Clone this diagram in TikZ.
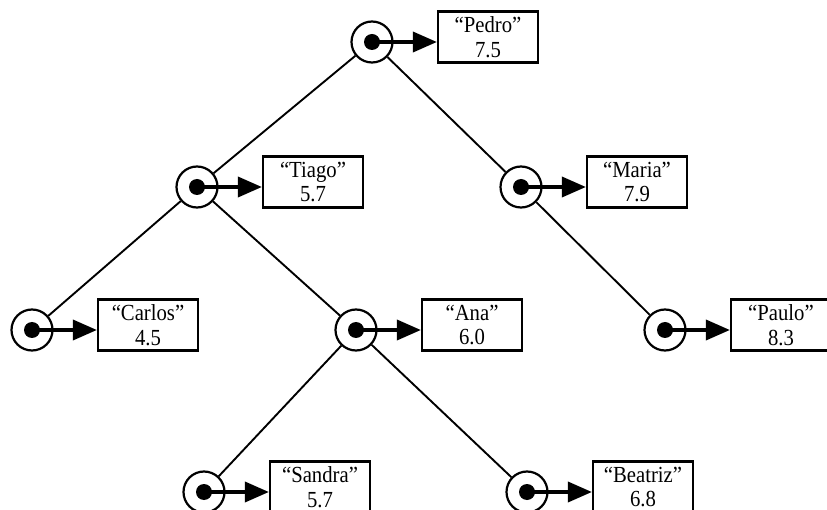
\documentclass[tikz,border=0pt]{standalone}
\usepackage{fontspec}
\setmainfont{Liberation Serif}
\usetikzlibrary{arrows.meta,calc}
\tikzset{
  ring/.style={circle, draw, line width=2.2pt, minimum size=41pt, inner sep=0pt},
  databox/.style={rectangle, draw, line width=2.2pt, minimum width=100pt, minimum height=51pt,
    inner sep=0pt, align=center, font=\fontsize{23}{24.5}\selectfont},
  treeedge/.style={line width=1.9pt},
  ptrarrow/.style={line width=3.6pt, -{Triangle[length=24pt,width=20pt]}},
}
\newcommand{\narrowtxt}[1]{\scalebox{0.9}[1]{#1}}
\newcommand{\treenode}[5]{%
  \node[ring] (#1) at (#2,#3) {};
  \fill (#1.center) circle (8pt);
  \node[databox] (#1box) at ($(#1.center)+(116,-5)$) {\narrowtxt{“#4”}\\\narrowtxt{#5}};
  \draw[ptrarrow] (#1.center) -- (#1.center -| #1box.west);
}
\begin{document}
\begin{tikzpicture}[x=1pt,y=-1pt]
\useasboundingbox (0,0) rectangle (827,510);
\treenode{pedro}{372}{42}{Pedro}{7.5}
\treenode{tiago}{197}{187}{Tiago}{5.7}
\treenode{maria}{521}{187}{Maria}{7.9}
\treenode{carlos}{32}{330}{Carlos}{4.5}
\treenode{ana}{356}{330}{Ana}{6.0}
\treenode{paulo}{665}{330}{Paulo}{8.3}
\treenode{sandra}{204}{492}{Sandra}{5.7}
\treenode{beatriz}{527}{492}{Beatriz}{6.8}
\draw[treeedge] (pedro) -- (tiago);
\draw[treeedge] (pedro) -- (maria);
\draw[treeedge] (tiago) -- (carlos);
\draw[treeedge] (tiago) -- (ana);
\draw[treeedge] (maria) -- (paulo);
\draw[treeedge] (ana) -- (sandra);
\draw[treeedge] (ana) -- (beatriz);
\end{tikzpicture}
\end{document}
